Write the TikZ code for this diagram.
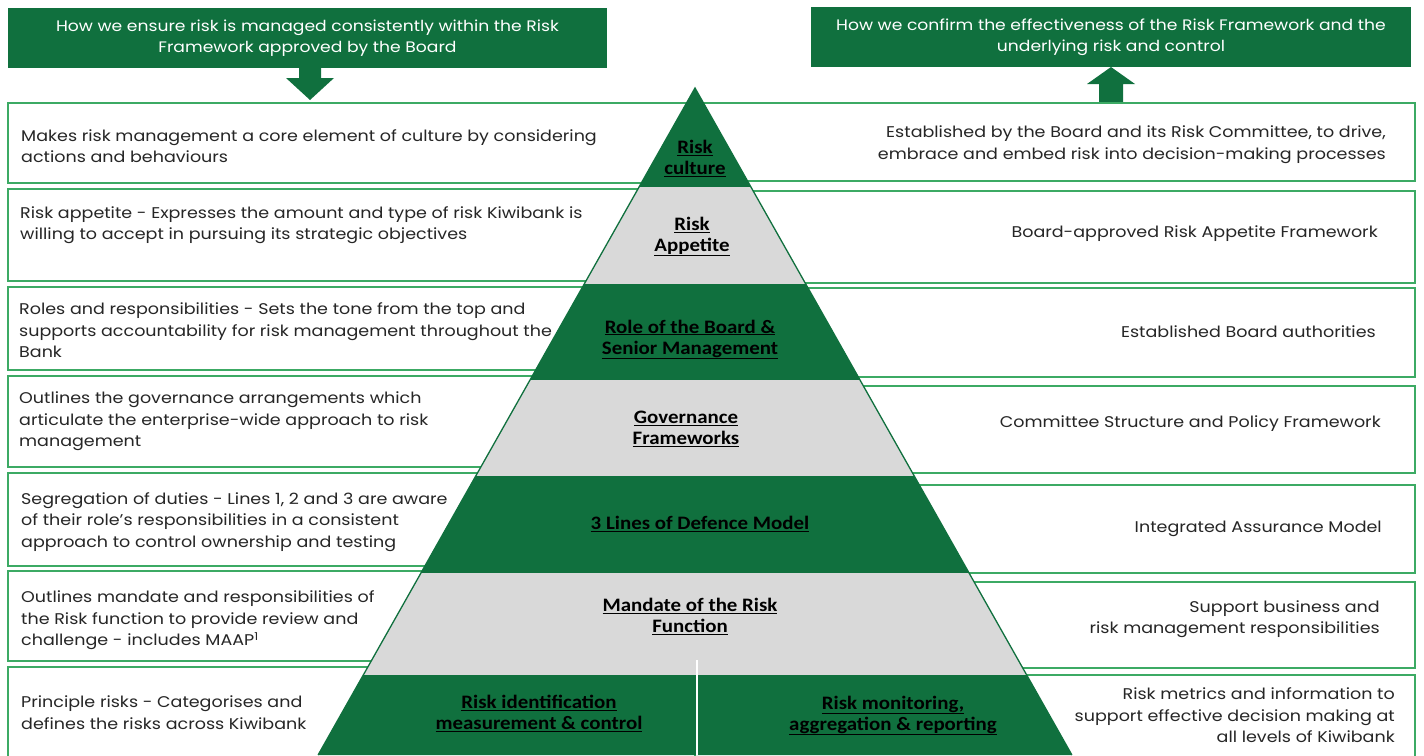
\documentclass[tikz,border=0pt]{standalone}
\usepackage{fontspec}
\setmainfont{Poppins}[FakeStretch=1.13]
\newfontfamily\labelfont{Carlito}[FakeStretch=1.1]
\definecolor{kbgreen}{RGB}{16,112,62}
\definecolor{boxline}{RGB}{60,170,100}
\definecolor{bandgrey}{RGB}{217,217,217}
\definecolor{txt}{RGB}{38,38,38}
\newcommand{\pl}[1]{\underline{#1}}
\begin{document}
\begin{tikzpicture}[x=1pt,y=-1pt,
  header/.style={fill=kbgreen,draw=none,inner sep=0pt},
  headtext/.style={text=white,align=center,inner sep=0pt,font=\fontsize{15.2}{21}\selectfont},
  rowbox/.style={draw=boxline,line width=1.4pt,fill=white},
  lefttext/.style={anchor=west,align=left,inner sep=0pt,text=txt,font=\fontsize{15.5}{21.5}\selectfont},
  righttext/.style={anchor=east,align=right,inner sep=0pt,text=txt,font=\fontsize{15.5}{21.5}\selectfont},
  darkband/.style={fill=kbgreen},
  greyband/.style={fill=bandgrey},
  level/.style={align=center,inner sep=0pt,text=black,font=\labelfont\bfseries\fontsize{19}{21}\selectfont},
  blockarrow/.style={fill=kbgreen,draw=none}]
\useasboundingbox (0,0) rectangle (1424,755);

% header panels
\fill[header] (8,8) rectangle (607,68);
\node[headtext] (hL) at (307.5,38) {How we ensure risk is managed consistently within the Risk\\Framework approved by the Board};
\fill[header] (811,7) rectangle (1411,67);
\node[headtext] (hR) at (1111,37) {How we confirm the effectiveness of the Risk Framework and the\\underlying risk and control};

% block arrows
\fill[blockarrow] (299,67) -- (321,67) -- (321,78) -- (334,78) -- (310,100) -- (286,78) -- (299,78) -- cycle;
\fill[blockarrow] (1099,103) -- (1123,103) -- (1123,84) -- (1135,84) -- (1111,67) -- (1087,84) -- (1099,84) -- cycle;

% left description boxes
\draw[rowbox] (8,103) rectangle (695,183);
\draw[rowbox] (8,189) rectangle (695,281);
\draw[rowbox] (8,287) rectangle (695,370);
\draw[rowbox] (8,376) rectangle (695,467);
\draw[rowbox] (8,473) rectangle (695,566);
\draw[rowbox] (8,571) rectangle (695,661);
\draw[rowbox] (8,667) rectangle (695,770);

% right description boxes
\draw[rowbox] (695,103) rectangle (1415,181);
\draw[rowbox] (695,191) rectangle (1415,283);
\draw[rowbox] (695,288) rectangle (1415,377);
\draw[rowbox] (695,386) rectangle (1415,473);
\draw[rowbox] (695,485) rectangle (1415,573);
\draw[rowbox] (695,582) rectangle (1415,668);
\draw[rowbox] (695,675) rectangle (1415,770);

% pyramid bands
\fill[darkband] (695,88) -- (750.9,187) -- (639.1,187) -- cycle;
\fill[greyband] (639.1,187) -- (750.9,187) -- (805.7,284) -- (584.3,284) -- cycle;
\fill[darkband] (584.3,284) -- (805.7,284) -- (860.0,380) -- (530.0,380) -- cycle;
\fill[greyband] (530.0,380) -- (860.0,380) -- (914.2,476) -- (475.8,476) -- cycle;
\fill[darkband] (475.8,476) -- (914.2,476) -- (969.0,573) -- (421.0,573) -- cycle;
\fill[greyband] (421.0,573) -- (969.0,573) -- (1026.7,675) -- (363.3,675) -- cycle;
\fill[darkband] (363.3,675) -- (1026.7,675) -- (1071.9,755) -- (318.1,755) -- cycle;
\draw[kbgreen,line width=1.3pt] (318.1,755) -- (695,88) -- (1071.9,755);
\draw[white,line width=1.2pt] (697,660) -- (697,755);

% pyramid labels
\node[level] (p1) at (695,158.5) {\pl{Risk}\\\pl{culture}};
\node[level] (p2) at (692,236.5) {\pl{Risk}\\\pl{Appetite}};
\node[level] (p3) at (690,339.5) {\pl{Role of the Board \&}\\\pl{Senior Management}};
\node[level] (p4) at (686,428.5) {\pl{Governance}\\\pl{Frameworks}};
\node[level] (p5) at (700,524) {\pl{3 Lines of Defence Model}};
\node[level] (p6) at (690,616.5) {\pl{Mandate of the Risk}\\\pl{Function}};
\node[level] (p7a) at (539,713.5) {\pl{Risk identification}\\\pl{measurement \& control}};
\node[level] (p7b) at (893,715.5) {\pl{Risk monitoring,}\\\pl{aggregation \& reporting}};

% left texts
\node[lefttext] (l1) at (21,146) {Makes risk management a core element of culture by considering\\actions and behaviours};
\node[lefttext] (l2) at (20,225) {Risk appetite - Expresses the amount and type of risk Kiwibank is\\willing to accept in pursuing its strategic objectives};
\node[lefttext] (l3) at (19,330.5) {Roles and responsibilities - Sets the tone from the top and\\supports accountability for risk management throughout the\\Bank};
\node[lefttext] (l4) at (19,421.5) {Outlines the governance arrangements which\\articulate the enterprise-wide approach to risk\\management};
\node[lefttext] (l5) at (21,522) {Segregation of duties - Lines 1, 2 and 3 are aware\\of their role's responsibilities in a consistent\\approach to control ownership and testing};
\node[lefttext] (l6) at (21,620.5) {Outlines mandate and responsibilities of\\the Risk function to provide review and\\challenge - includes MAAP\textsuperscript{1}};
\node[lefttext] (l7) at (21,712.5) {Principle risks - Categorises and\\defines the risks across Kiwibank};

% right texts
\node[righttext] (r1) at (1386,144.5) {Established by the Board and its Risk Committee, to drive,\\embrace and embed risk into decision-making processes};
\node[righttext] (r2) at (1378,234) {Board-approved Risk Appetite Framework};
\node[righttext] (r3) at (1376,332) {Established Board authorities};
\node[righttext] (r4) at (1381,424) {Committee Structure and Policy Framework};
\node[righttext] (r5) at (1382,529) {Integrated Assurance Model};
\node[righttext] (r6) at (1380,619) {Support business and\\risk management responsibilities};
\node[righttext] (r7) at (1395,715.5) {Risk metrics and information to\\support effective decision making at\\all levels of Kiwibank};
\end{tikzpicture}
\end{document}
